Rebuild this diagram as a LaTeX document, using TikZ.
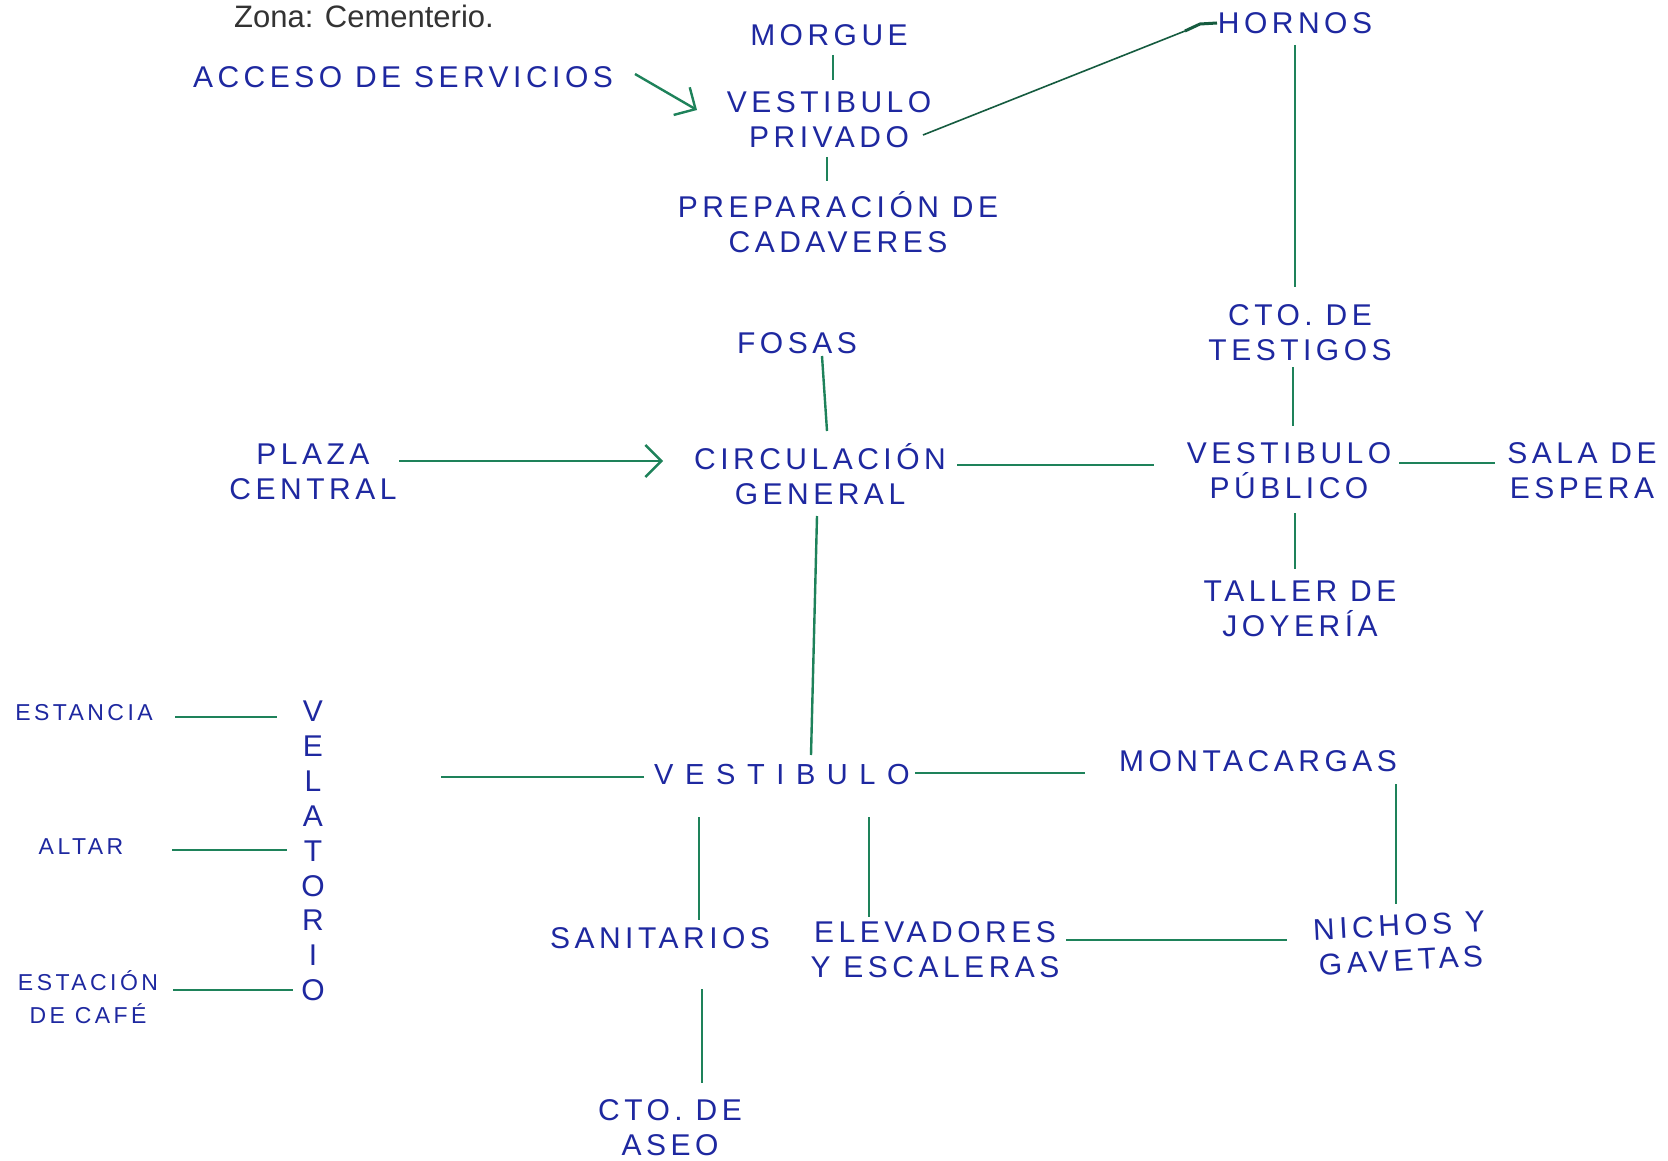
\documentclass[tikz,border=0pt]{standalone}
\usepackage{fontspec}
\setmainfont{Liberation Sans}
\newfontfamily\hand[LetterSpace=15]{Liberation Sans}
\newfontfamily\handw[LetterSpace=40]{Liberation Sans}
\usetikzlibrary{arrows.meta,calc}
\definecolor{ink}{RGB}{30,40,160}
\definecolor{pen}{RGB}{30,130,90}
\begin{document}
\begin{tikzpicture}[x=1pt,y=-1pt,
  lbl/.style={font=\hand\fontsize{30}{35}\selectfont, text=ink, align=center, inner sep=3pt},
  sml/.style={font=\hand\fontsize{23}{33}\selectfont, text=ink, align=center, inner sep=3pt},
  link/.style={draw=pen, line width=2.4pt},
  arr/.style={link, -{Straight Barb[length=16pt,width=32pt,line width=2.4pt]}}]
\fill[white] (0,0) rectangle (1668,1161);
\useasboundingbox (0,0) rectangle (1668,1161);

% nodes
\node[font=\fontsize{31}{36}\selectfont, text=black!80, anchor=base] (zona) at (364,28) {Zona: Cementerio.};
\node[lbl] (acceso) at (403,77) {ACCESO DE SERVICIOS};
\node[lbl] (morgue) at (829,35) {MORGUE};
\node[lbl] (vpriv) at (829,120) {VESTIBULO\\PRIVADO};
\node[lbl] (prep) at (838,222) {PREPARACIÓN DE\\CADAVERES};
\node[lbl] (hornos) at (1295,23) {HORNOS};
\node[lbl] (testigos) at (1300,333) {CTO. DE\\TESTIGOS};
\node[lbl] (vpub) at (1289,471) {VESTIBULO\\PÚBLICO};
\node[lbl] (taller) at (1300,609) {TALLER DE\\JOYERÍA};
\node[lbl] (sala) at (1582,471) {SALA DE\\ESPERA};
\node[lbl] (fosas) at (797,343) {FOSAS};
\node[lbl] (plaza) at (313,472) {PLAZA\\CENTRAL};
\node[lbl] (circ) at (820,474) {CIRCULACIÓN\\GENERAL};
\node[lbl, font=\handw\fontsize{29}{35}\selectfont] (vest) at (782,775) {VESTIBULO};
\node[lbl, font=\hand\fontsize{30}{34.9}\selectfont] (vel) at (313,851) {V\\E\\L\\A\\T\\O\\R\\I\\O};
\node[sml] (estancia) at (84,713) {ESTANCIA};
\node[sml] (altar) at (81,847) {ALTAR};
\node[sml] (estacion) at (88,997) {ESTACIÓN\\DE CAFÉ};
\node[lbl] (mont) at (1258,761) {MONTACARGAS};
\node[lbl, rotate=3] (nichos) at (1400,943) {NICHOS Y\\GAVETAS};
\node[lbl] (sanit) at (660,938) {SANITARIOS};
\node[lbl] (elev) at (935,950) {ELEVADORES\\Y ESCALERAS};
\node[lbl] (aseo) at (670,1128) {CTO. DE\\ASEO};

% connectors
\draw[arr] ($(acceso)+(232,-3)$) -- ($(vpriv)+(-132,-10)$);
\draw[link] ($(morgue)+(4,20)$) -- ($(vpriv)+(4,-40)$);
\draw[link] ($(vpriv)+(-2,37)$) -- ($(prep)+(-11,-41)$);
\draw[draw=pen!70!black, line width=1.6pt] ($(vpriv)+(94,15)$) -- ($(hornos)+(-110,8)$);
\draw[draw=pen!70!black, line width=3pt] ($(hornos)+(-110,8)$) -- ($(hornos)+(-95,1)$) -- ($(hornos)+(-78,0)$);
\draw[link] ($(hornos)+(0,22)$) -- ($(testigos)+(-5,-46)$);
\draw[link] ($(testigos)+(-7,34)$) -- ($(vpub)+(4,-45)$);
\draw[link] ($(vpub)+(6,42)$) -- ($(taller)+(-5,-40)$);
\draw[link] ($(vpub)+(110,-8)$) -- ($(sala)+(-87,-8)$);
\draw[link] ($(fosas)+(25,13)$) -- ($(circ)+(7,-43)$);
\draw[arr] ($(plaza)+(86,-11)$) -- ($(circ)+(-157,-13)$);
\draw[link] ($(circ)+(137,-9)$) -- ($(vpub)+(-135,-6)$);
\draw[link] ($(circ)+(-3,42)$) -- ($(vest)+(29,-20)$);
\draw[link] ($(vest)+(-138,2)$) -- ($(vel)+(128,-74)$);
\draw[link] ($(estancia)+(91,4)$) -- ($(vel)+(-36,-134)$);
\draw[link] ($(altar)+(91,3)$) -- ($(vel)+(-26,-1)$);
\draw[link] ($(estacion)+(85,-7)$) -- ($(vel)+(-20,139)$);
\draw[link] ($(vest)+(133,-2)$) -- ($(mont)+(-173,12)$);
\draw[link] ($(mont)+(138,23)$) -- ($(nichos)+(-4,-39)$);
\draw[link] ($(elev)+(131,-10)$) -- ($(nichos)+(-113,-3)$);
\draw[link] ($(vest)+(-83,42)$) -- ($(sanit)+(39,-18)$);
\draw[link] ($(vest)+(87,42)$) -- ($(elev)+(-66,-33)$);
\draw[link] ($(sanit)+(42,51)$) -- ($(aseo)+(32,-45)$);
\end{tikzpicture}
\end{document}
